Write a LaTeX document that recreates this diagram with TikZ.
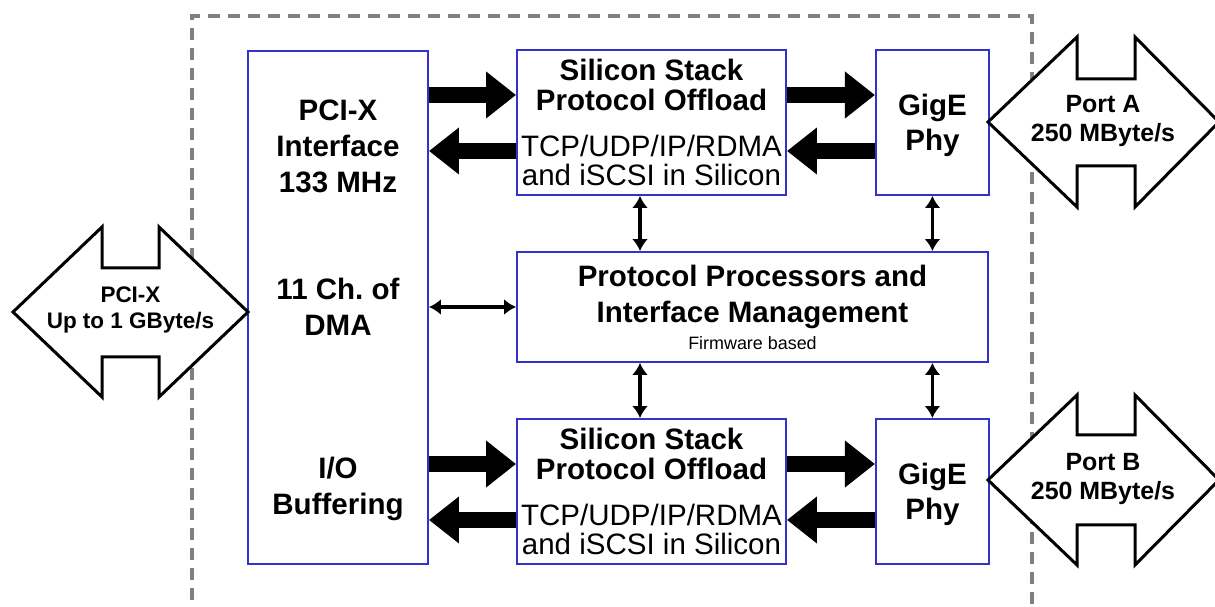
\documentclass[tikz,border=0pt]{standalone}
\usepackage{fontspec}
\setmainfont{Liberation Sans}
\usetikzlibrary{arrows.meta, positioning}

\definecolor{boxblue}{RGB}{51,51,204}
\definecolor{framegray}{RGB}{128,128,128}

\begin{document}
\begin{tikzpicture}[x=0.02cm, y=-0.02cm,
  blk/.style={draw=boxblue, line width=0.04cm, inner sep=0pt, align=center, text depth=0pt,
    font=\bfseries\fontsize{16.8}{20.4}\selectfont},
  fat/.style={line width=0.32cm, -{Triangle[length=0.6cm, width=0.9cm]}},
  dbl/.style={line width=0.075cm, {Latex[length=0.24cm, width=0.32cm]}-{Latex[length=0.24cm, width=0.32cm]}},
  bus/.style={draw, fill=white, line width=0.06cm, line join=miter},
  buslabel/.style={align=center, font=\bfseries\fontsize{14.2}{17}\selectfont}]

\path[use as bounding box, fill=white] (0,0) rectangle (1215,607);

% dashed card outline
\draw[framegray, line width=0.07cm, dash pattern=on 0.24cm off 0.16cm] (192,620) -- (192,16) -- (1032,16) -- (1032,620);

% blocks
\node[blk, minimum width=3.6cm, minimum height=10.26cm] (pcix) at (338,307.5)
  {PCI-X\\Interface\\133 MHz\\[40.7pt]11 Ch.\ of\\DMA\\[61pt]I/O\\Buffering};
\node[blk, minimum width=5.38cm, minimum height=2.9cm, font=\bfseries\fontsize{16.8}{17}\selectfont] (stack1) at (651.5,122.5)
  {Silicon Stack\\Protocol Offload\\[9pt]\mdseries TCP/UDP/IP/RDMA\\\mdseries and iSCSI in Silicon};
\node[blk, minimum width=2.26cm, minimum height=2.9cm, right=1.76cm of stack1, font=\bfseries\fontsize{16.8}{19.8}\selectfont] (gige1) {GigE\\Phy};
\node[blk, minimum width=9.42cm, minimum height=2.2cm] (mid) at (752.5,307)
  {Protocol Processors and\\Interface Management\\[-5.1pt]{\mdseries\fontsize{10.2}{12}\selectfont Firmware based}};
\node[blk, minimum width=5.38cm, minimum height=2.9cm, font=\bfseries\fontsize{16.8}{17}\selectfont] (stack2) at (651.5,491.5)
  {Silicon Stack\\Protocol Offload\\[9pt]\mdseries TCP/UDP/IP/RDMA\\\mdseries and iSCSI in Silicon};
\node[blk, minimum width=2.26cm, minimum height=2.9cm, right=1.76cm of stack2, font=\bfseries\fontsize{16.8}{19.8}\selectfont] (gige2) {GigE\\Phy};

% external buses
\draw[bus] (13,312) -- (102,227) -- (102,268) -- (159,268) -- (159,227) -- (248,312)
  -- (159,397) -- (159,357) -- (102,357) -- (102,397) -- cycle;
\node[buslabel, font=\bfseries\fontsize{12.8}{14.8}\selectfont] (pcibus) at (130.5,310) {PCI-X\\Up to 1 GByte/s};
\draw[bus] (988,122) -- (1077,37) -- (1077,79) -- (1135,79) -- (1135,37) -- (1219,122)
  -- (1135,207) -- (1135,166) -- (1077,166) -- (1077,207) -- cycle;
\node[buslabel] (porta) at (1103,121) {Port A\\250 MByte/s};
\draw[bus] (988,480) -- (1077,395) -- (1077,435) -- (1135,435) -- (1135,395) -- (1219,480)
  -- (1135,565) -- (1135,525) -- (1077,525) -- (1077,565) -- cycle;
\node[buslabel] (portb) at (1103,479) {Port B\\250 MByte/s};

% data paths
\draw[fat] ([yshift=0.55cm]pcix.east |- stack1.west) -- ([yshift=0.55cm]stack1.west);
\draw[fat] ([yshift=-0.57cm]stack1.west) -- ([yshift=-0.57cm]pcix.east |- stack1.west);
\draw[fat] ([yshift=0.55cm]stack1.east) -- ([yshift=0.55cm]gige1.west);
\draw[fat] ([yshift=-0.57cm]gige1.west) -- ([yshift=-0.57cm]stack1.east);
\draw[fat] ([yshift=0.55cm]pcix.east |- stack2.west) -- ([yshift=0.55cm]stack2.west);
\draw[fat] ([yshift=-0.57cm]stack2.west) -- ([yshift=-0.57cm]pcix.east |- stack2.west);
\draw[fat] ([yshift=0.55cm]stack2.east) -- ([yshift=0.55cm]gige2.west);
\draw[fat] ([yshift=-0.57cm]gige2.west) -- ([yshift=-0.57cm]stack2.east);

% control paths
\draw[dbl] (pcix.east |- mid.west) -- (mid.west);
\draw[dbl] ([xshift=-0.23cm]stack1.south) -- ([xshift=-0.23cm]stack1.south |- mid.north);
\draw[dbl] (gige1.south) -- (gige1.south |- mid.north);
\draw[dbl] ([xshift=-0.23cm]stack2.north |- mid.south) -- ([xshift=-0.23cm]stack2.north);
\draw[dbl] (gige2.north |- mid.south) -- (gige2.north);
\end{tikzpicture}
\end{document}
